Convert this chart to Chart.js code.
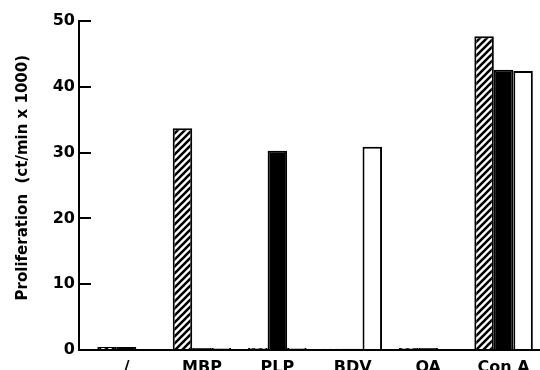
<!DOCTYPE html>
<html>
<head>
<meta charset="utf-8">
<script src="https://cdn.jsdelivr.net/npm/chart.js@4"></script>
<style>
  html, body { margin: 0; padding: 0; background: #fff; }
  #wrap { width: 540px; height: 370px; position: relative; }
</style>
</head>
<body>
<div id="wrap"><canvas id="chart"></canvas></div>
<script>
// ---------- Data ----------
const categories = ['/', 'MBP', 'PLP', 'BDV', 'OA', 'Con A'];
const hatchedValues = [0.45, 33.7, 0.3, 0.2, 0.3, 47.7];
const blackValues = [0.45, 0.3, 30.3, 0.2, 0.3, 42.6];
const whiteValues = [0, 0.3, 0.3, 30.9, 0, 42.4];
// leading spaces nudge the centred (rotated) title up a little
const yTitle = '   Proliferation  (ct/min x 1000)';

// ---------- Hatch pattern ----------
function makeHatch() {
  const c = document.createElement('canvas');
  c.width = 7; c.height = 7;
  const g = c.getContext('2d');
  g.fillStyle = '#fff';
  g.fillRect(0, 0, 7, 7);
  g.strokeStyle = '#000';
  g.lineWidth = 2.6;
  g.beginPath();
  g.moveTo(-1, 8); g.lineTo(8, -1);
  g.moveTo(-1, 1); g.lineTo(1, -1);
  g.moveTo(6, 8); g.lineTo(8, 6);
  g.stroke();
  return g.createPattern(c, 'repeat');
}

const toPoints = arr => arr.map((v, i) => ({ x: i, y: v }));
const font = { family: 'DejaVu Sans', size: 16, weight: 'bold' };

const bar = (data, fill) => ({
  data: toPoints(data),
  backgroundColor: fill,
  borderColor: '#000',
  borderWidth: 2,
  categoryPercentage: 0.776,
  barPercentage: 1
});

new Chart(document.getElementById('chart'), {
  type: 'bar',
  data: {
    datasets: [
      bar(hatchedValues, makeHatch()),
      bar(blackValues, '#000'),
      bar(whiteValues, '#fff')
    ]
  },
  options: {
    responsive: true,
    maintainAspectRatio: false,
    animation: false,
    layout: { padding: { top: 21, right: 0, bottom: 0, left: 0 } },
    plugins: { legend: { display: false }, tooltip: { enabled: false } },
    scales: {
      x: {
        type: 'linear',
        offset: false,
        min: -0.631,
        max: 5.483,
        afterFit: s => { s.height = 20; s.paddingLeft = 0; s.paddingRight = 0; },
        grid: { display: true, drawOnChartArea: false, drawTicks: false, offset: false },
        border: { color: '#000', width: 2 },
        ticks: {
          stepSize: 1,
          includeBounds: false,
          autoSkip: false,
          maxRotation: 0,
          padding: 8,
          color: '#000',
          font: font,
          callback: v => Number.isInteger(v) ? categories[v] : ''
        }
      },
      y: {
        min: 0,
        max: 50,
        // fixed width, and no extra room for the end labels
        afterFit: s => { s.width = 79; s.paddingTop = 0; s.paddingBottom = 0; },
        grid: { drawOnChartArea: false, drawTicks: true, tickLength: -12, color: '#000', lineWidth: 2 },
        border: { color: '#000', width: 2 },
        ticks: { stepSize: 10, padding: 16, color: '#000', font: font },
        title: {
          display: true,
          text: yTitle,
          color: '#000',
          font: { family: 'DejaVu Sans', size: 15, weight: 'bold' },
          padding: { top: 14, bottom: 0 }
        }
      }
    }
  }
});
</script>
</body>
</html>
